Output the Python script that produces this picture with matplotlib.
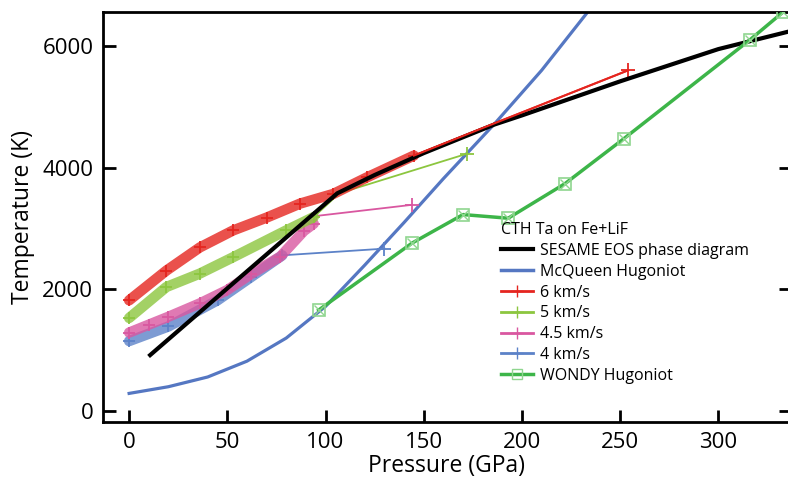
import matplotlib
matplotlib.use('Agg')
import matplotlib.pyplot as plt
from matplotlib.lines import Line2D

plt.rcParams['font.family'] = ['Open Sans', 'DejaVu Sans']

# SESAME EOS phase diagram (pressure GPa, temperature K)
sesame_p = [10.7, 106, 125, 150, 186, 200, 250, 300, 336]
sesame_t = [920, 3580, 3880, 4240, 4710, 4860, 5420, 5950, 6240]

# McQueen Hugoniot
mcq_p = [0, 20, 40, 60, 80, 100, 120, 140, 160, 186, 210, 233]
mcq_t = [290, 400, 560, 820, 1200, 1720, 2400, 3100, 3820, 4720, 5600, 6540]

# WONDY Hugoniot
wondy_p = [96.5, 144, 170, 193, 222, 252, 316, 333]
wondy_t = [1660, 2760, 3230, 3170, 3740, 4480, 6100, 6560]

# CTH runs: dense band + tail to last point
v6_p = [0, 19, 36, 53, 70, 87, 104, 121, 145]
v6_t = [1820, 2310, 2690, 2970, 3180, 3410, 3570, 3840, 4200]
v6_tail_p = [145, 186, 254]
v6_tail_t = [4200, 4730, 5600]

v5_p = [0, 19, 36, 53, 80, 94]
v5_t = [1530, 2040, 2260, 2530, 2970, 3190]
v5_tail_p = [94, 107, 172]
v5_tail_t = [3190, 3580, 4230]

v45_p = [0, 10, 20, 36, 50, 62, 77, 89, 94]
v45_t = [1290, 1420, 1550, 1770, 1990, 2250, 2540, 2960, 3080]
v45_tail_p = [94, 96, 144]
v45_tail_t = [3080, 3210, 3390]

v4_p = [0, 20, 45, 62, 78]
v4_t = [1150, 1390, 1820, 2200, 2560]
v4_tail_p = [78, 130]
v4_tail_t = [2560, 2670]

c_black = '#000000'
c_mcq = '#5577c2'
c_red = '#e5251f'
c_v5 = '#8cc63f'
c_pink = '#d957a0'
c_v4 = '#5c82c8'
c_wondy = '#3db549'

fig = plt.figure(figsize=(7.88, 4.83), dpi=100)
ax = fig.add_axes([103 / 788, 61 / 483, 688 / 788, 410 / 483])

ax.plot(mcq_p, mcq_t, color=c_mcq, lw=2.3, zorder=2)

bands = [
    (v4_p, v4_t, v4_tail_p, v4_tail_t, c_v4),
    (v45_p, v45_t, v45_tail_p, v45_tail_t, c_pink),
    (v5_p, v5_t, v5_tail_p, v5_tail_t, c_v5),
    (v6_p, v6_t, v6_tail_p, v6_tail_t, c_red),
]
for bp, bt, tp, tt, col in bands:
    ax.plot(bp, bt, color=col, lw=7.5, alpha=0.8, solid_capstyle='round', zorder=3)
    ax.plot(bp, bt, color=col, lw=0, marker='+', ms=8, mew=1.3, zorder=3)
    ax.plot(tp, tt, color=col, lw=1.3, zorder=3)
    ax.plot(tp[-1:], tt[-1:], color=col, lw=0, marker='+', ms=10, mew=1.3, zorder=3)

ax.plot(sesame_p, sesame_t, color=c_black, lw=3, zorder=4)
ax.plot(v6_tail_p, v6_tail_t, color=c_red, lw=1.5, zorder=5)

ax.plot(wondy_p, wondy_t, color=c_wondy, lw=2.5, zorder=4)
ax.plot(wondy_p, wondy_t, color='#8fd68f', lw=0, marker='s', ms=9, mfc='none', mew=1.2, zorder=4)
ax.plot(wondy_p, wondy_t, color='#8fd68f', lw=0, marker='x', ms=7, mew=1.0, zorder=4)

ax.set_xlim(-13.3, 337)
ax.set_ylim(-180, 6560)
ax.set_xticks([0, 50, 100, 150, 200, 250, 300])
ax.set_yticks([0, 2000, 4000, 6000])
ax.tick_params(direction='in', length=9, width=2, labelsize=16, right=True, top=False, pad=7)
for s in ax.spines.values():
    s.set_linewidth(2)
ax.set_xlabel('Pressure (GPa)', fontsize=16.5, labelpad=1)
ax.set_ylabel('Temperature (K)', fontsize=16.5, labelpad=5)

handles = [
    Line2D([], [], color=c_black, lw=3),
    Line2D([], [], color=c_mcq, lw=2.5),
    Line2D([], [], color=c_red, lw=2, marker='+', ms=9),
    Line2D([], [], color=c_v5, lw=2, marker='+', ms=9),
    Line2D([], [], color=c_pink, lw=2, marker='+', ms=9),
    Line2D([], [], color=c_v4, lw=2, marker='+', ms=9),
    Line2D([], [], color=c_wondy, lw=2.5, marker='s', ms=7, mfc='none', mec='#8fd68f'),
]
labels = ['SESAME EOS phase diagram', 'McQueen Hugoniot', '6 km/s', '5 km/s',
          '4.5 km/s', '4 km/s', 'WONDY Hugoniot']
leg = ax.legend(handles, labels, title='CTH Ta on Fe+LiF', loc='upper left',
                bbox_to_anchor=(490 / 788, 1 - 211 / 483), bbox_transform=fig.transFigure,
                frameon=False, fontsize=11.5, title_fontsize=11.5, alignment='left',
                handlelength=2.0, handletextpad=0.45, labelspacing=0.3, borderpad=0.2)

fig.savefig('out.png', dpi=100)
